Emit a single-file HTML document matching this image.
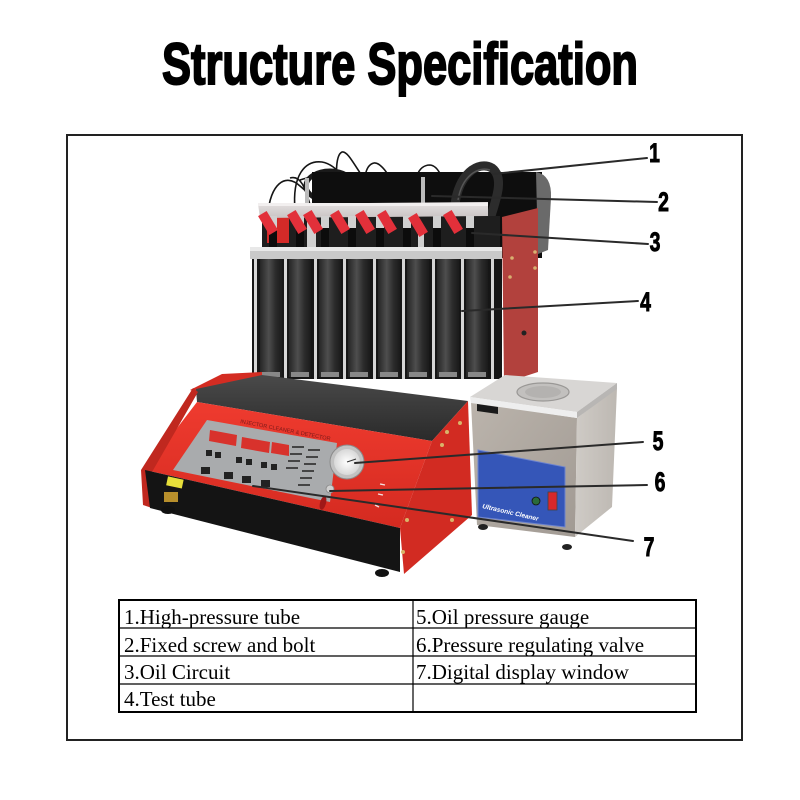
<!DOCTYPE html>
<html><head><meta charset="utf-8"><style>
html,body{margin:0;padding:0;background:#fff;}
svg{display:block;}
</style></head><body>
<svg width="800" height="800" viewBox="0 0 800 800" xmlns="http://www.w3.org/2000/svg">
<defs>
 <linearGradient id="tube" x1="0" x2="1" y1="0" y2="0">
  <stop offset="0" stop-color="#262626"/><stop offset="0.4" stop-color="#4e4e4e"/><stop offset="0.7" stop-color="#2c2c2c"/><stop offset="1" stop-color="#1a1a1a"/>
 </linearGradient>
 <linearGradient id="front" x1="0" y1="0" x2="0" y2="1">
  <stop offset="0" stop-color="#ef3b2f"/><stop offset="1" stop-color="#d42a20"/>
 </linearGradient>
 <linearGradient id="plate" x1="0" y1="0" x2="0" y2="1">
  <stop offset="0" stop-color="#4a4a4a"/><stop offset="1" stop-color="#2a2a2a"/>
 </linearGradient>
 <linearGradient id="steel" x1="0" y1="0" x2="1" y2="1">
  <stop offset="0" stop-color="#bbb4ac"/><stop offset="1" stop-color="#a19a93"/>
 </linearGradient>
 <linearGradient id="steelR" x1="0" y1="0" x2="1" y2="0">
  <stop offset="0" stop-color="#cfcbc6"/><stop offset="1" stop-color="#bdb8b2"/>
 </linearGradient>
 <linearGradient id="rail" x1="0" y1="0" x2="0" y2="1">
  <stop offset="0" stop-color="#e6e2e2"/><stop offset="1" stop-color="#c9c3c3"/>
 </linearGradient>
 <radialGradient id="gauge"><stop offset="0" stop-color="#ffffff"/><stop offset="1" stop-color="#d8d8d8"/></radialGradient>
</defs>
<rect width="800" height="800" fill="#fff"/>

<!-- Title -->
<text x="162" y="84" textLength="476" lengthAdjust="spacingAndGlyphs" font-family="Liberation Sans, sans-serif" font-weight="bold" font-size="58" fill="#000" stroke="#000" stroke-width="2">Structure Specification</text>

<!-- Frame -->
<rect x="67" y="135" width="675" height="605" fill="none" stroke="#222" stroke-width="2"/>

<!-- ===== Machine ===== -->
<g fill="none" stroke="#151515" stroke-width="1.6">
 <path d="M268,214 C270,185 285,172 300,186 S325,200 332,208"/>
 <path d="M295,210 C292,175 305,160 322,162 C340,165 352,190 360,205"/>
 <path d="M340,205 C335,180 335,155 342,152 C350,150 360,180 385,205"/>
 <path d="M367,205 C362,180 365,165 374,163 C385,162 395,190 412,212"/>
 <path d="M415,205 C412,180 418,165 430,165 C442,166 445,190 452,208"/>
 <path d="M300,180 C330,170 380,178 420,185"/>
 <path d="M312,212 C305,185 300,175 290,178"/>
 <path d="M385,190 C400,175 425,170 445,180"/>
</g>
<ellipse cx="330" cy="186" rx="24" ry="15" fill="none" stroke="#1a1a1a" stroke-width="5"/>

<rect x="312" y="172" width="230" height="86" fill="#0e0e0e"/>
<path d="M536,172 Q552,175 551,198 L548,250 L538,254 Z" fill="#6a6a6a"/>

<path d="M455,205 C458,175 478,160 492,168 C505,178 496,200 488,225" fill="none" stroke="#2c2c2c" stroke-width="9"/>
<path d="M458,200 C462,176 478,166 490,170" fill="none" stroke="#555" stroke-width="1.5"/>

<rect x="305" y="178" width="4" height="26" fill="#bbb"/>
<rect x="421" y="177" width="4" height="27" fill="#bbb"/>

<polygon points="502,217 538,208 538,372 504,383" fill="#b2413d"/>
<g fill="#d8b070">
 <circle cx="512" cy="258" r="1.8"/><circle cx="535" cy="252" r="1.8"/><circle cx="535" cy="268" r="1.8"/><circle cx="510" cy="277" r="1.8"/>
</g>
<circle cx="524" cy="333" r="2.5" fill="#222"/>

<rect x="262" y="216" width="238" height="32" fill="#1e1e1e"/>
<rect x="267" y="217" width="22" height="26" fill="#d42a28"/>
<rect x="307" y="222" width="9" height="27" fill="#cfcfcf"/>
<rect x="418" y="230" width="6" height="19" fill="#cfcfcf"/>

<polygon points="258,204 488,202 488,216 260,218" fill="url(#rail)"/>
<rect x="258" y="203" width="230" height="3" fill="#f2efef"/>

<g>
 <g fill="#d0d0d0">
  <rect x="269" y="216" width="8" height="12"/><rect x="296" y="216" width="8" height="12"/><rect x="321" y="216" width="8" height="12"/><rect x="348" y="216" width="8" height="12"/>
  <rect x="376" y="216" width="8" height="12"/><rect x="403" y="216" width="8" height="12"/><rect x="433" y="216" width="8" height="12"/><rect x="466" y="216" width="8" height="12"/>
 </g>
 <g fill="#0c0c0c">
  <rect x="269" y="228" width="8" height="20"/><rect x="296" y="228" width="8" height="20"/><rect x="321" y="228" width="8" height="20"/><rect x="348" y="228" width="8" height="20"/>
  <rect x="376" y="228" width="8" height="20"/><rect x="403" y="228" width="8" height="20"/><rect x="433" y="228" width="8" height="20"/><rect x="466" y="228" width="8" height="20"/>
 </g>
 <g fill="#e2303a">
  <rect x="-5" y="-11" width="10" height="22" transform="translate(268,223) rotate(-31)"/>
  <rect x="-5" y="-11" width="10" height="22" transform="translate(297,222) rotate(-31)"/>
  <rect x="-5" y="-11" width="10" height="22" transform="translate(313,222) rotate(-31)"/>
  <rect x="-5" y="-11" width="10" height="22" transform="translate(340,222) rotate(-31)"/>
  <rect x="-5" y="-11" width="10" height="22" transform="translate(365,222) rotate(-31)"/>
  <rect x="-5" y="-11" width="10" height="22" transform="translate(387,222) rotate(-31)"/>
  <rect x="-5" y="-11" width="10" height="22" transform="translate(418,225) rotate(-31)"/>
  <rect x="-5" y="-11" width="10" height="22" transform="translate(453,222) rotate(-31)"/>
 </g>
</g>

<rect x="250" y="247" width="252" height="12" fill="#c9c9c9"/>
<rect x="250" y="247" width="252" height="4" fill="#e8e8e8"/>

<rect x="252" y="259" width="250" height="120" fill="#161616"/>
<g>
 <rect x="260" y="259" width="22" height="118" fill="url(#tube)"/>
 <rect x="289" y="259" width="22" height="118" fill="url(#tube)"/>
 <rect x="319" y="259" width="22" height="118" fill="url(#tube)"/>
 <rect x="348" y="259" width="22" height="118" fill="url(#tube)"/>
 <rect x="378" y="259" width="22" height="118" fill="url(#tube)"/>
 <rect x="407" y="259" width="22" height="118" fill="url(#tube)"/>
 <rect x="437" y="259" width="22" height="118" fill="url(#tube)"/>
 <rect x="466" y="259" width="22" height="118" fill="url(#tube)"/>
</g>
<g fill="#d6d6d6">
 <rect x="254" y="259" width="3" height="120"/><rect x="284" y="259" width="3" height="120"/><rect x="314" y="259" width="3" height="120"/>
 <rect x="343" y="259" width="3" height="120"/><rect x="373" y="259" width="3" height="120"/><rect x="402" y="259" width="3" height="120"/>
 <rect x="432" y="259" width="3" height="120"/><rect x="461" y="259" width="3" height="120"/><rect x="491" y="259" width="3" height="120"/>
</g>
<g fill="#888">
 <rect x="262" y="372" width="18" height="5"/><rect x="291" y="372" width="18" height="5"/><rect x="321" y="372" width="18" height="5"/><rect x="350" y="372" width="18" height="5"/>
 <rect x="380" y="372" width="18" height="5"/><rect x="409" y="372" width="18" height="5"/><rect x="439" y="372" width="18" height="5"/><rect x="468" y="372" width="18" height="5"/>
</g>

<polygon points="190,390 222,374 262,372 262,378 196,392" fill="#d42c22"/>
<polygon points="196,389 262,375 468,401 432,441 197,402" fill="url(#plate)"/>
<polygon points="197,402 432,441 400,528 145,470" fill="url(#front)"/>
<polygon points="193,388 198,392 152,472 152,508 143,505 141,470" fill="#c0281f"/>
<polygon points="145,470 400,528 400,572 150,508" fill="#141414"/>
<polygon points="432,441 468,401 472,515 404,574 400,528" fill="#d22b22"/>
<g fill="#d9b46a">
 <circle cx="447" cy="432" r="2"/><circle cx="460" cy="423" r="2"/><circle cx="442" cy="445" r="2"/><circle cx="407" cy="520" r="2"/><circle cx="452" cy="520" r="2"/><circle cx="403" cy="552" r="2"/>
</g>
<ellipse cx="168" cy="510" rx="7" ry="4" fill="#111"/>
<ellipse cx="382" cy="573" rx="7" ry="4" fill="#111"/>

<polygon points="207,420 337,443 330,502 173,470" fill="#a9abad"/>
<text x="0" y="0" transform="translate(240,423) rotate(11)" font-family="Liberation Sans, sans-serif" font-size="5.5" fill="#7a1a1a">INJECTOR CLEANER &amp; DETECTOR</text>
<g fill="#d8322c">
 <polygon points="210,430 237,435 236,446 209,441"/>
 <polygon points="242,437 270,442 269,453 241,448"/>
 <polygon points="272,442 289,445 289,456 271,453"/>
</g>
<g fill="#222">
 <rect x="206" y="450" width="6" height="6"/><rect x="215" y="452" width="6" height="6"/>
 <rect x="236" y="457" width="6" height="6"/><rect x="246" y="459" width="6" height="6"/>
 <rect x="261" y="462" width="6" height="6"/><rect x="271" y="464" width="6" height="6"/>
 <rect x="201" y="467" width="9" height="7"/><rect x="224" y="472" width="9" height="7"/>
 <rect x="242" y="476" width="9" height="7"/><rect x="261" y="480" width="9" height="7"/>
</g>
<g fill="#444">
 <rect x="292" y="446" width="12" height="2"/><rect x="308" y="449" width="12" height="2"/>
 <rect x="290" y="453" width="12" height="2"/><rect x="306" y="456" width="12" height="2"/>
 <rect x="288" y="460" width="12" height="2"/><rect x="304" y="463" width="12" height="2"/>
 <rect x="286" y="467" width="12" height="2"/><rect x="302" y="470" width="12" height="2"/>
 <rect x="300" y="477" width="12" height="2"/><rect x="298" y="484" width="12" height="2"/>
</g>
<circle cx="347" cy="462" r="17" fill="#c2c2c2" stroke="#8a8a8a" stroke-width="1"/>
<circle cx="347" cy="462" r="13" fill="url(#gauge)"/>
<line x1="347" y1="462" x2="356" y2="459" stroke="#333" stroke-width="1"/>
<circle cx="330" cy="489" r="4" fill="#cfcfcf" stroke="#888" stroke-width="0.8"/>
<ellipse cx="323" cy="503" rx="3" ry="7" fill="#a01818" transform="rotate(15 323 503)"/>
<g stroke="#f4dede" stroke-width="1.4" fill="none">
 <path d="M380,484 l5,1"/><path d="M378,494 l5,1"/><path d="M375,505 l4,2"/>
</g>
<rect x="167" y="478" width="16" height="9" fill="#e6df3a" transform="rotate(12 175 482)"/>
<rect x="164" y="492" width="14" height="10" fill="#b88f2c"/>

<polygon points="471,402 577,418 575,537 477,525" fill="url(#steel)"/>
<polygon points="577,418 617,388 612,507 575,537" fill="url(#steelR)"/>
<polygon points="470,397 505,375 617,383 577,412" fill="#d8d6d4"/>
<ellipse cx="543" cy="392" rx="26" ry="9" fill="#c2c0be" stroke="#9a9896" stroke-width="1.2"/>
<ellipse cx="543" cy="392" rx="18" ry="6" fill="#b4b2b0"/>
<polygon points="470,397 577,412 577,418 471,403" fill="#eeeeee"/>
<polygon points="577,412 617,383 617,389 577,418" fill="#b8b6b4"/>
<polygon points="477,404 498,407 498,414 477,411" fill="#1a1a1a"/>
<polygon points="478,450 565,467 565,527 478,517" fill="#3556b8" stroke="#6d84cf" stroke-width="1"/>
<text x="0" y="0" transform="translate(482,508) rotate(13)" font-family="Liberation Sans, sans-serif" font-size="6.5" font-weight="bold" font-style="italic" fill="#fff">Ultrasonic Cleaner</text>
<rect x="548" y="492" width="9" height="18" fill="#d8282a" stroke="#444" stroke-width="0.8"/>
<circle cx="536" cy="501" r="4" fill="#2a6a3a" stroke="#111" stroke-width="0.8"/>
<ellipse cx="483" cy="527" rx="5" ry="3" fill="#222"/>
<ellipse cx="567" cy="547" rx="5" ry="3" fill="#222"/>

<g stroke="#2a2a2a" stroke-width="2" stroke-linecap="round">
 <line x1="647" y1="158" x2="493" y2="174"/>
 <line x1="657" y1="202" x2="432" y2="196"/>
 <line x1="648" y1="244" x2="472" y2="233"/>
 <line x1="638" y1="301" x2="462" y2="311"/>
 <line x1="643" y1="442" x2="355" y2="463"/>
 <line x1="647" y1="485" x2="330" y2="491"/>
 <line x1="633" y1="541" x2="253" y2="486"/>
</g>

<g font-family="Liberation Sans, sans-serif" font-weight="bold" font-size="27" fill="#000" stroke="#000" stroke-width="0.9" text-anchor="middle">
 <text x="0" y="0" transform="translate(654.5,162) scale(0.72,1)">1</text>
 <text x="0" y="0" transform="translate(663.5,211) scale(0.72,1)">2</text>
 <text x="0" y="0" transform="translate(655,251) scale(0.72,1)">3</text>
 <text x="0" y="0" transform="translate(645.5,311) scale(0.72,1)">4</text>
 <text x="0" y="0" transform="translate(658,450) scale(0.72,1)">5</text>
 <text x="0" y="0" transform="translate(660,491) scale(0.72,1)">6</text>
 <text x="0" y="0" transform="translate(649,556) scale(0.72,1)">7</text>
</g>

<rect x="119" y="600" width="577" height="112" fill="none" stroke="#000" stroke-width="2"/>
<g stroke="#000" stroke-width="1.2">
 <line x1="413" y1="600" x2="413" y2="712"/>
 <line x1="119" y1="628" x2="696" y2="628"/>
 <line x1="119" y1="656" x2="696" y2="656"/>
 <line x1="119" y1="684" x2="696" y2="684"/>
</g>
<g font-family="Liberation Serif, serif" font-size="21" fill="#000">
 <text x="124" y="624">1.High-pressure tube</text>
 <text x="124" y="652">2.Fixed screw and bolt</text>
 <text x="124" y="679">3.Oil Circuit</text>
 <text x="124" y="706">4.Test tube</text>
 <text x="416" y="624">5.Oil pressure gauge</text>
 <text x="416" y="652">6.Pressure regulating valve</text>
 <text x="416" y="679">7.Digital display window</text>
</g>
</svg>
</body></html>
